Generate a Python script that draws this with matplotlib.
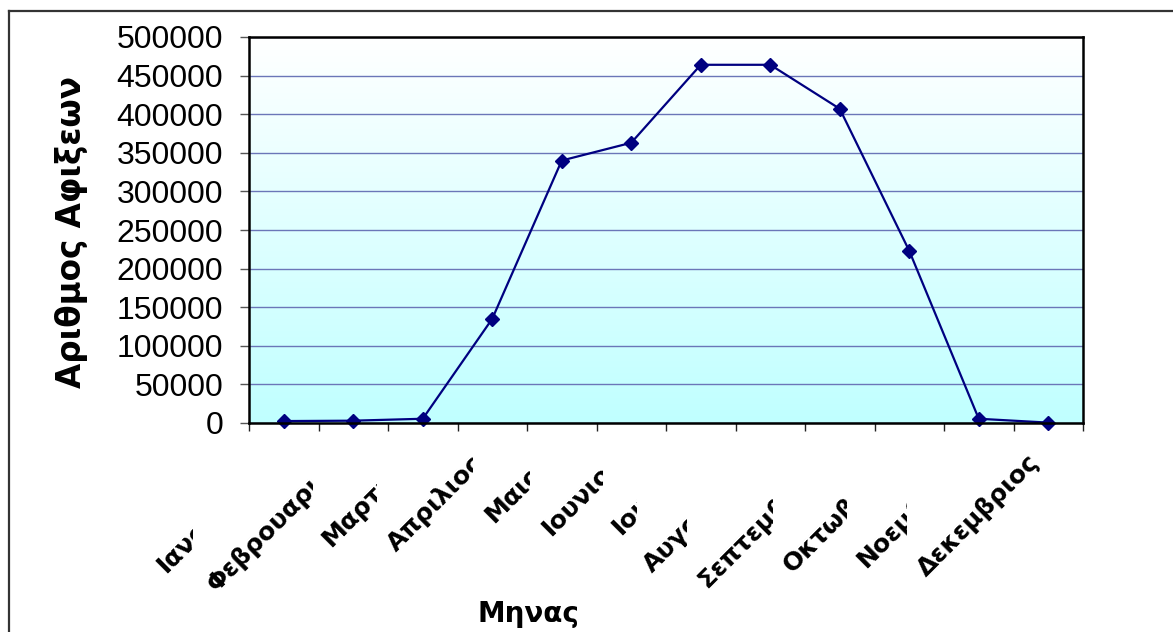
import numpy as np
import matplotlib
matplotlib.use("Agg")
import matplotlib.pyplot as plt
from matplotlib.transforms import Bbox, TransformedBbox, ScaledTranslation, blended_transform_factory
from matplotlib.lines import Line2D

# ---- data ----
months = ["Ιανουαριος", "Φεβρουαριος", "Μαρτιος", "Απριλιος", "Μαιος", "Ιουνιος",
          "Ιουλιος", "Αυγουστος", "Σεπτεμβριος", "Οκτωβριος", "Νοεμβριος", "Δεκεμβριος"]
arrivals = [2500, 3000, 5500, 135000, 340000, 363000,
            464000, 464000, 407000, 223000, 5500, 500]
y_ticks = [0, 50000, 100000, 150000, 200000, 250000, 300000, 350000, 400000, 450000, 500000]
y_label = "Αριθμος Αφιξεων"
x_label = "Μηνας"

# pixel x where each (buggy) rotated month label appears cut off in the original
label_clip_px = [193, 313, 377, 473, 530, 603, 637, 687, 773, 847, 907, 1173]

W, H = 1173, 632
fig = plt.figure(figsize=(W / 100, H / 100), dpi=100)
fig.patch.set_facecolor("white")

ax = fig.add_axes([249 / W, 1 - 423 / H, (1083 - 249) / W, (423 - 37) / H])

# gradient background
grad = np.linspace(0, 1, 256).reshape(-1, 1)
top = np.array([1.0, 1.0, 1.0])
bot = np.array([192, 255, 255]) / 255.0
img = top[None, None, :] * (1 - grad[:, :, None]) + bot[None, None, :] * grad[:, :, None]
ax.imshow(img, extent=[0, 1, 0, 1], transform=ax.transAxes, aspect="auto", zorder=0)

x = np.arange(len(months))
ax.plot(x, arrivals, color="#000080", lw=1.6, marker="D", markersize=7.5,
        markerfacecolor="#000080", markeredgecolor="#000080", zorder=3, clip_on=False)

ax.set_xlim(-0.5, len(months) - 0.5)
ax.set_ylim(0, 500000)
ax.set_yticks(y_ticks)
ax.set_yticklabels([str(v) for v in y_ticks], fontfamily="Liberation Sans", fontsize=23)
ax.grid(axis="y", color="#6B76B8", lw=1.0, zorder=1)
ax.set_axisbelow(True)

# x: ticks at category boundaries, month labels drawn as rotated text
ax.set_xticks(np.arange(-0.5, len(months) + 0.5, 1.0))
ax.set_xticklabels([])
ax.tick_params(axis="x", length=6, width=1, color="#222222", direction="out")
ax.tick_params(axis="y", length=6.5, width=1, color="#555555", direction="out", pad=12)

lab_trans = blended_transform_factory(ax.transData, ax.transAxes) + \
    ScaledTranslation(-13 / 100, -36 / 100, fig.dpi_scale_trans)
for xi, m, cx in zip(x, months, label_clip_px):
    t = ax.text(xi, 0, m, transform=lab_trans, rotation=45, ha="right", va="center",
                rotation_mode="anchor", fontfamily="DejaVu Sans", fontweight="bold",
                fontsize=18)
    t.set_clip_box(TransformedBbox(Bbox([[0, 0], [cx / W, 1]]), fig.transFigure))
    t.set_clip_on(True)

for s in ["left", "bottom", "top", "right"]:
    ax.spines[s].set_color("black")
    ax.spines[s].set_linewidth(1.8)
    ax.spines[s].set_zorder(4)

fig.text(72 / W, 1 - 232 / H, y_label, rotation=90, ha="center", va="center",
         fontfamily="DejaVu Sans", fontweight="bold", fontsize=23.5)
fig.text(528 / W, 1 - 622 / H, x_label, ha="center", va="baseline",
         fontfamily="DejaVu Sans", fontweight="bold", fontsize=20)

# outer chart frame (top and left edges visible)
fig.add_artist(Line2D([9 / W, 1], [1 - 11 / H, 1 - 11 / H], transform=fig.transFigure,
                      color="#333333", lw=1.6))
fig.add_artist(Line2D([9 / W, 9 / W], [0, 1 - 11 / H], transform=fig.transFigure,
                      color="#333333", lw=1.6))

fig.savefig("out.png", dpi=100)
